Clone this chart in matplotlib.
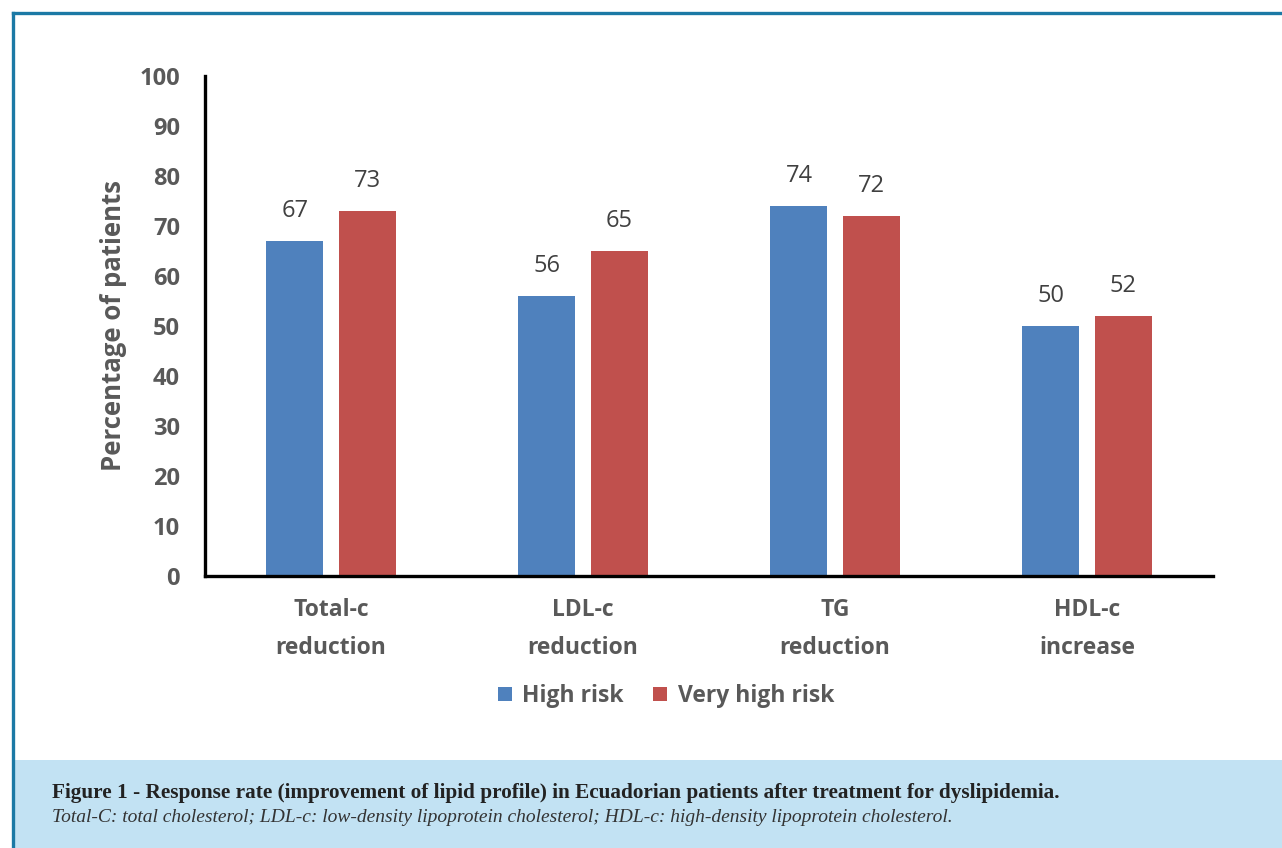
import matplotlib
matplotlib.use("Agg")
import matplotlib.pyplot as plt
from matplotlib.patches import Rectangle
import numpy as np

categories = ["Total-c\nreduction", "LDL-c\nreduction", "TG\nreduction", "HDL-c\nincrease"]
series_names = ["High risk", "Very high risk"]
high_risk = [67, 56, 74, 50]
very_high_risk = [73, 65, 72, 52]
yticks = [0, 10, 20, 30, 40, 50, 60, 70, 80, 90, 100]
caption_title = "Figure 1 - Response rate (improvement of lipid profile) in Ecuadorian patients after treatment for dyslipidemia."
caption_note = "Total-C: total cholesterol; LDL-c: low-density lipoprotein cholesterol; HDL-c: high-density lipoprotein cholesterol."

blue = "#4F81BD"
red = "#C0504D"
gray = "#595959"

plt.rcParams['font.family'] = ['Open Sans', 'DejaVu Sans']

W, H = 1282, 848
fig = plt.figure(figsize=(W / 100, H / 100), dpi=100)

# Frame: top and left border, caption box
fig.patches.append(Rectangle((14 / W, 0), 1 - 14 / W, 88 / H, transform=fig.transFigure,
                             facecolor="#C2E2F3", edgecolor="none", zorder=0))
fig.lines.append(plt.Line2D([13 / W, 1], [1 - 13 / H, 1 - 13 / H], transform=fig.transFigure,
                            color="#1B79A5", linewidth=2.4))
fig.lines.append(plt.Line2D([13 / W, 13 / W], [0, 1 - 13 / H], transform=fig.transFigure,
                            color="#1B79A5", linewidth=2.4))

ax = fig.add_axes([205 / W, 1 - 576 / H, (1213 - 205) / W, (576 - 76) / H])
x = np.arange(len(categories))
w = 0.226
off = 0.143
b1 = ax.bar(x - off, high_risk, w, color=blue, label=series_names[0])
b2 = ax.bar(x + off, very_high_risk, w, color=red, label=series_names[1])
for bars, vals in ((b1, high_risk), (b2, very_high_risk)):
    for rect, v in zip(bars, vals):
        ax.annotate(str(v), (rect.get_x() + rect.get_width() / 2, v), xytext=(0, 13),
                    textcoords="offset points", ha="center", va="bottom",
                    fontsize=17, color="#404040")

ax.set_xlim(-0.5, 3.5)
ax.set_ylim(0, 100)
ax.set_yticks(yticks)
ax.set_xticks(x)
ax.set_xticklabels(categories, fontsize=16.5, fontweight="bold", color=gray, linespacing=1.75)
ax.tick_params(axis="y", length=0, pad=18, labelsize=17, labelcolor=gray)
ax.tick_params(axis="x", length=0, pad=16)
for lbl in ax.get_yticklabels():
    lbl.set_fontweight("bold")
for s in ("top", "right"):
    ax.spines[s].set_visible(False)
for s in ("left", "bottom"):
    ax.spines[s].set_linewidth(2.4)
    ax.spines[s].set_color("black")
ax.set_ylabel("Percentage of patients", fontsize=18.5, fontweight="bold", color=gray, labelpad=9)

leg = fig.legend(handles=[b1, b2], labels=series_names, loc="center", bbox_to_anchor=(666 / W, 1 - 696 / H),
                 ncol=2, frameon=False, fontsize=16.5, handlelength=0.6, handleheight=0.6,
                 columnspacing=1.3, handletextpad=0.45)
for t in leg.get_texts():
    t.set_fontweight("bold")
    t.set_color(gray)

fig.text(52 / W, 1 - 793 / H, caption_title, fontsize=15.3, fontweight="bold", family="Liberation Serif",
         color="#222222", va="center", ha="left")
fig.text(52 / W, 1 - 817 / H, caption_note, fontsize=14, style="italic", family="Liberation Serif",
         color="#333333", va="center", ha="left")

fig.savefig("out.png", dpi=100)
